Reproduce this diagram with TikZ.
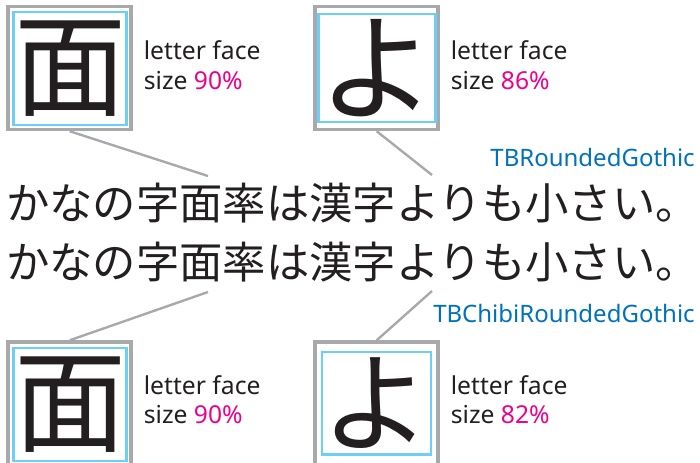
\documentclass[tikz,border=0pt]{standalone}
\usepackage{fontspec}
\setmainfont{Noto Sans}
\newfontfamily\jpfont{Noto Sans CJK JP}
\usetikzlibrary{positioning}
\definecolor{boxgray}{HTML}{A7A9AC}
\definecolor{faceblue}{HTML}{6DCFF6}
\definecolor{sizepink}{HTML}{EC008C}
\definecolor{fontblue}{HTML}{0072BC}
\definecolor{inkblack}{HTML}{231F20}

\begin{document}
\begin{tikzpicture}[x=0.75pt, y=-0.75pt, text=inkblack,
  embox/.style={draw=boxgray, line width=2.6pt, minimum size=92.25pt, inner sep=0pt},
  facebox/.style={draw=faceblue, line width=1.8pt, inner sep=0pt,
    font=\jpfont\fontsize{#1}{#1}\selectfont},
  sizetext/.style={inner sep=0pt, align=left, font=\fontsize{18.5}{22}\selectfont},
  fontname/.style={inner sep=0pt, text=fontblue, font=\fontsize{18}{20}\selectfont},
  sample/.style={inner sep=0pt, anchor=west, font=\jpfont\fontsize{32.5}{32.5}\selectfont},
  pointer/.style={draw=boxgray, line width=1.8pt}]
  \useasboundingbox (0,0) rectangle (700,462);
  % sample lines
  \node[sample] (line1) at (6,203) {かなの字面率は漢字よりも小さい。};
  \node[sample] (line2) at (6,262) {かなの字面率は漢字よりも小さい。};
  \node[fontname, anchor=east] (nameA) at (695,157) {TBRoundedGothic};
  \node[fontname, anchor=east] (nameB) at (695,313) {TBChibiRoundedGothic};
  % top row
  \node[embox] (emTL) at (69.7,68) {};
  \node[facebox=84, minimum size=84.75pt] (faceTL) at (70,68.5) {面};
  \node[sizetext, right=8pt of emTL, yshift=2pt] (sizeTL) {letter face\\size \textcolor{sizepink}{90\%}};
  \node[embox] (emTR) at (376.7,68) {};
  \node[facebox=88, minimum size=81pt] (faceTR) at (377,68) {よ};
  \node[sizetext, right=8pt of emTR, yshift=2pt] (sizeTR) {letter face\\size \textcolor{sizepink}{86\%}};
  % bottom row
  \node[embox] (emBL) at (69.7,403.5) {};
  \node[facebox=84, minimum size=84.75pt] (faceBL) at (70,404.2) {面};
  \node[sizetext, right=8pt of emBL, yshift=3pt] (sizeBL) {letter face\\size \textcolor{sizepink}{90\%}};
  \node[embox] (emBR) at (376.7,403.5) {};
  \node[facebox=82, minimum size=76.8pt] (faceBR) at (376.5,403.2) {よ};
  \node[sizetext, right=8pt of emBR, yshift=3pt] (sizeBR) {letter face\\size \textcolor{sizepink}{82\%}};
  % pointers
  \coordinate (tipTL) at (208,176);
  \coordinate (tipTR) at (432,175);
  \coordinate (tipBL) at (208,292);
  \coordinate (tipBR) at (432,291);
  \draw[pointer] (emTL.south) -- (tipTL);
  \draw[pointer] (emTR.south) -- (tipTR);
  \draw[pointer] (emBL.north) -- (tipBL);
  \draw[pointer] (emBR.north) -- (tipBR);
\end{tikzpicture}
\end{document}
